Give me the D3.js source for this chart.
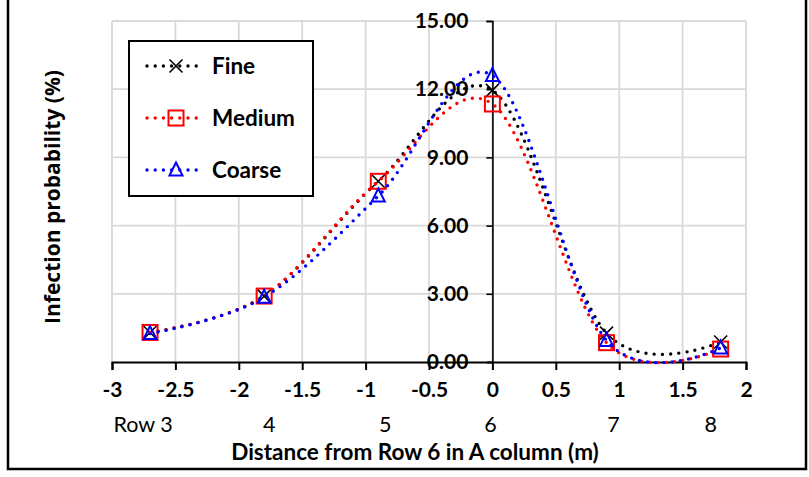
<!DOCTYPE html>
<html>
<head>
<meta charset="utf-8">
<script src="https://d3js.org/d3.v7.min.js"></script>
<style>
  body { margin: 0; background: #fff; }
  .tick-label { font-family: Lato, sans-serif; font-weight: 700; font-size: 21px; }
  .row-label { font-family: Lato, sans-serif; font-size: 21.5px; }
  .axis-title { font-family: Lato, sans-serif; font-weight: 700; font-size: 22.5px; }
  .y-title { font-family: "Open Sans", sans-serif; font-weight: 700; font-size: 21px; }
  .legend-text { font-family: Lato, sans-serif; font-weight: 700; font-size: 22.5px; }
</style>
</head>
<body>
<div id="chart"></div>
<script>
// distance from row 6 (m) and the row each point belongs to
const xValues = [-2.7, -1.8, -0.9, 0, 0.9, 1.8];
const rowLabels = ['Row 3', '4', '5', '6', '7', '8'];

// infection probability (%) per mesh
const fine = [1.3, 2.9, 7.95, 11.95, 1.27, 0.88];
const medium = [1.3, 2.9, 7.95, 11.35, 0.85, 0.57];
const coarse = [1.25, 2.85, 7.3, 12.6, 0.95, 0.62];

const seriesNames = ['Fine', 'Medium', 'Coarse'];
const xTicks = [-3, -2.5, -2, -1.5, -1, -0.5, 0, 0.5, 1, 1.5, 2];
const yTicks = [0, 3, 6, 9, 12, 15];

const width = 809;
const height = 477;
const margins = { top: 21, right: 63, bottom: 115, left: 112 };
const colors = { Fine: '#000000', Medium: '#ff0000', Coarse: '#0000ff' };
const values = { Fine: fine, Medium: medium, Coarse: coarse };
// the row labels are hand placed text boxes, a few px off the points
const rowNudge = [-7, 5, 7, -2, 7, -10];

const svg = d3.select('#chart')
  .append('svg')
  .attr('width', width)
  .attr('height', height);

// outer frame
svg.append('rect')
  .attr('x', 8)
  .attr('y', -3)
  .attr('width', 798)
  .attr('height', 472)
  .attr('fill', 'none')
  .attr('stroke', '#000')
  .attr('stroke-width', 2.5);

const xScale = d3.scaleLinear()
  .domain([-3, 2])
  .range([margins.left, width - margins.right]);

const yScale = d3.scaleLinear()
  .domain([0, 15])
  .range([height - margins.bottom, margins.top]);

// gridlines
const grid = svg.append('g').attr('class', 'grid');
grid.selectAll('line.vgrid')
  .data(xTicks)
  .enter()
  .append('line')
  .attr('x1', d => xScale(d))
  .attr('x2', d => xScale(d))
  .attr('y1', yScale(0))
  .attr('y2', yScale(15))
  .attr('stroke', '#d9d9d9')
  .attr('stroke-width', 1.8);

grid.selectAll('line.hgrid')
  .data(yTicks.filter(d => d > 0))
  .enter()
  .append('line')
  .attr('x1', xScale(-3))
  .attr('x2', xScale(2))
  .attr('y1', d => yScale(d))
  .attr('y2', d => yScale(d))
  .attr('stroke', '#d9d9d9')
  .attr('stroke-width', 1.8);

// y axis sits at x = 0
const yAxis = d3.axisLeft(yScale)
  .tickValues(yTicks)
  .tickSizeInner(6)
  .tickSizeOuter(6)
  .tickPadding(18)
  .tickFormat(d3.format('.2f'));

const yAxisG = svg.append('g')
  .attr('transform', 'translate(' + xScale(0) + ',0)')
  .call(yAxis);
yAxisG.select('.domain').attr('stroke', '#000').attr('stroke-width', 1.6);
yAxisG.selectAll('.tick line').attr('stroke', '#000').attr('stroke-width', 1.6);
yAxisG.selectAll('.tick text')
  .attr('class', 'tick-label')
  .attr('fill', '#000')
  .attr('font-size', null)
  .attr('font-family', null);

// x axis at y = 0
const xAxis = d3.axisBottom(xScale)
  .tickValues(xTicks)
  .tickSizeInner(8)
  .tickSizeOuter(8)
  .tickPadding(12)
  .tickFormat(d => d3.format('')(d).replace('−', '-'));

const xAxisG = svg.append('g')
  .attr('transform', 'translate(0,' + yScale(0) + ')')
  .call(xAxis);
xAxisG.select('.domain').attr('stroke', '#000').attr('stroke-width', 2);
xAxisG.selectAll('.tick line').attr('stroke', '#000').attr('stroke-width', 2);
xAxisG.selectAll('.tick text')
  .attr('class', 'tick-label')
  .attr('fill', '#000')
  .attr('font-size', null)
  .attr('font-family', null);

// row labels under the ticks
svg.selectAll('text.row-label')
  .data(rowLabels)
  .enter()
  .append('text')
  .attr('class', 'row-label')
  .attr('x', (d, i) => xScale(xValues[i]) + rowNudge[i])
  .attr('y', 432)
  .attr('text-anchor', 'middle')
  .text(d => d);

svg.append('text')
  .attr('class', 'axis-title')
  .attr('x', 415)
  .attr('y', 460)
  .attr('text-anchor', 'middle')
  .text('Distance from Row 6 in A column (m)');

svg.append('text')
  .attr('class', 'y-title')
  .attr('transform', 'translate(60,197) rotate(-90)')
  .attr('text-anchor', 'middle')
  .text('Infection probability (%)');

// smoothed dotted lines (Excel style smoothing)
const line = d3.line()
  .x((d, i) => xScale(xValues[i]))
  .y(d => yScale(d))
  .curve(d3.curveCardinal.tension(0));

const seriesG = svg.selectAll('g.series')
  .data(seriesNames)
  .enter()
  .append('g')
  .attr('class', 'series');

seriesG.append('path')
  .attr('d', d => line(values[d]))
  .attr('fill', 'none')
  .attr('stroke', d => colors[d])
  .attr('stroke-width', 3.4)
  .attr('stroke-linecap', 'round')
  .attr('stroke-dasharray', '0 8.2');

function drawMarker(sel, name, cx, cy) {
  const c = colors[name];
  if (name === 'Fine') {
    const r = 6.5;
    sel.append('path')
      .attr('d', 'M' + (cx - r) + ',' + (cy - r) + 'L' + (cx + r) + ',' + (cy + r) +
        'M' + (cx - r) + ',' + (cy + r) + 'L' + (cx + r) + ',' + (cy - r))
      .attr('stroke', c)
      .attr('stroke-width', 1.6)
      .attr('fill', 'none');
  } else if (name === 'Medium') {
    const s = 7.5;
    sel.append('rect')
      .attr('x', cx - s)
      .attr('y', cy - s)
      .attr('width', 2 * s)
      .attr('height', 2 * s)
      .attr('stroke', c)
      .attr('stroke-width', 2)
      .attr('fill', 'none');
  } else {
    const h = 6.5;
    sel.append('path')
      .attr('d', 'M' + cx + ',' + (cy - h - 1) + 'L' + (cx + h) + ',' + (cy + h - 1) +
        'L' + (cx - h) + ',' + (cy + h - 1) + 'Z')
      .attr('stroke', c)
      .attr('stroke-width', 2)
      .attr('fill', 'none');
  }
}

seriesG.each(function(name) {
  const g = d3.select(this);
  values[name].forEach((v, i) => drawMarker(g, name, xScale(xValues[i]), yScale(v)));
});

// legend
const legend = svg.append('g').attr('class', 'legend');
legend.append('rect')
  .attr('x', 129)
  .attr('y', 41)
  .attr('width', 184)
  .attr('height', 155)
  .attr('fill', '#fff')
  .attr('stroke', '#000')
  .attr('stroke-width', 2);

const legendRows = legend.selectAll('g.legend-row')
  .data(seriesNames)
  .enter()
  .append('g')
  .attr('class', 'legend-row')
  .attr('transform', (d, i) => 'translate(0,' + (66 + i * 52) + ')');

legendRows.append('line')
  .attr('x1', 147)
  .attr('x2', 203)
  .attr('y1', 0)
  .attr('y2', 0)
  .attr('stroke', d => colors[d])
  .attr('stroke-width', 3.4)
  .attr('stroke-linecap', 'round')
  .attr('stroke-dasharray', '0 8.2');

legendRows.each(function(name) {
  drawMarker(d3.select(this), name, 176, 0);
});

legendRows.append('text')
  .attr('class', 'legend-text')
  .attr('x', 212)
  .attr('y', 0)
  .attr('dy', '0.35em')
  .text(d => d);
</script>
</body>
</html>
